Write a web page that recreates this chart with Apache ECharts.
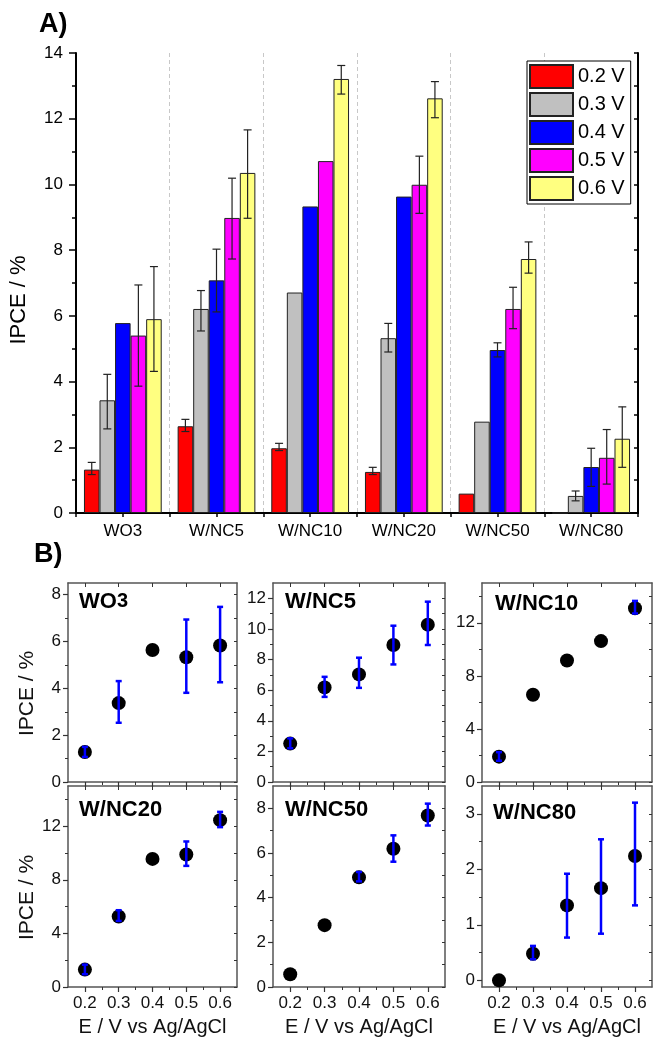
<!DOCTYPE html>
<html><head><meta charset="utf-8">
<script src="https://cdn.jsdelivr.net/npm/echarts@6/dist/echarts.min.js"></script>
<style>html,body{margin:0;padding:0;background:#fff}#c{width:655px;height:1040px}</style>
</head><body><div id="c"></div>
<script>
// ---------------- DATA ----------------
const samples = ['WO3', 'W/NC5', 'W/NC10', 'W/NC20', 'W/NC50', 'W/NC80'];
const voltageNames = ['0.2 V', '0.3 V', '0.4 V', '0.5 V', '0.6 V'];
const voltages = [0.2, 0.3, 0.4, 0.5, 0.6];

// Panel A: IPCE (%) per sample at each potential
const ipce02 = [1.32, 2.64, 1.97, 1.25, 0.59, 0];
const ipce03 = [3.43, 6.21, 6.71, 5.32, 2.78, 0.52];
const ipce04 = [5.78, 7.08, 9.33, 9.63, 4.96, 1.40];
const ipce05 = [5.40, 8.98, 10.71, 9.99, 6.21, 1.68];
const ipce06 = [5.90, 10.35, 13.21, 12.62, 7.73, 2.26];
// Panel A: error bar limits (null = no bar)
const err02Lo = [1.17, 2.48, 1.90, 1.17, null, null];
const err02Hi = [1.54, 2.85, 2.12, 1.39, null, null];
const err03Lo = [2.56, 5.54, null, 4.90, null, 0.37];
const err03Hi = [4.22, 6.77, null, 5.77, null, 0.67];
const err04Lo = [null, 6.12, null, null, 4.75, 0.81];
const err04Hi = [null, 8.03, null, null, 5.18, 1.97];
const err05Lo = [3.86, 7.73, null, 9.12, 5.61, 0.88];
const err05Hi = [6.94, 10.19, null, 10.86, 6.87, 2.54];
const err06Lo = [4.31, 8.97, 12.75, 12.03, 7.30, 1.39];
const err06Hi = [7.50, 11.66, 13.62, 13.13, 8.25, 3.23];

// Panel B: IPCE vs potential per sample
const wo3Ipce = [1.28, 3.37, 5.64, 5.33, 5.83];
const wo3Lo = [1.07, 2.53, null, 3.81, 4.26];
const wo3Hi = [1.50, 4.31, null, 6.94, 7.48];
const nc5Ipce = [2.51, 6.18, 7.03, 8.95, 10.28];
const nc5Lo = [2.20, 5.56, 6.15, 7.68, 8.95];
const nc5Hi = [2.85, 6.87, 8.12, 10.21, 11.78];
const nc10Ipce = [1.91, 6.58, 9.16, 10.62, 13.10];
const nc10Lo = [1.60, null, null, null, 12.70];
const nc10Hi = [2.25, null, null, null, 13.65];
const nc20Ipce = [1.30, 5.26, 9.56, 9.89, 12.45];
const nc20Lo = [0.95, 4.93, null, 9.04, 11.93];
const nc20Hi = [1.67, 5.73, null, 10.86, 13.07];
const nc50Ipce = [0.57, 2.77, 4.91, 6.19, 7.68];
const nc50Lo = [null, null, 4.73, 5.61, 7.23];
const nc50Hi = [null, null, 5.15, 6.79, 8.21];
const nc80Ipce = [0.00, 0.48, 1.35, 1.66, 2.24];
const nc80Lo = [null, 0.38, 0.77, 0.84, 1.35];
const nc80Hi = [null, 0.62, 1.92, 2.54, 3.20];

// Tick labels
const xTickB = [0.2, 0.3, 0.4, 0.5, 0.6];
const xMinorB = [0.25, 0.35, 0.45, 0.55];
const wo3Ticks = [0, 2, 4, 6, 8];
const wo3Minor = [1, 3, 5, 7];
const nc5Ticks = [0, 2, 4, 6, 8, 10, 12];
const nc5Minor = [1, 3, 5, 7, 9, 11];
const nc10Ticks = [0, 4, 8, 12];
const nc10Minor = [2, 6, 10, 14];
const nc20Ticks = [0, 4, 8, 12];
const nc20Minor = [2, 6, 10, 14];
const nc50Ticks = [0, 2, 4, 6, 8];
const nc50Minor = [1, 3, 5, 7];
const nc80Ticks = [0, 1, 2, 3];
const nc80Minor = [0.5, 1.5, 2.5];

// ---------------- STYLE / LAYOUT ----------------
const FONT = '"Liberation Sans", Arial, Helvetica, sans-serif';
const barColors = ['#FF0000', '#C0C0C0', '#0000FF', '#FF00FF', '#FFFF80'];
const CAT_GAP = 0.17;

const seriesA = [ipce02, ipce03, ipce04, ipce05, ipce06];
const errLoA = [err02Lo, err03Lo, err04Lo, err05Lo, err06Lo];
const errHiA = [err02Hi, err03Hi, err04Hi, err05Hi, err06Hi];

const panelsB = [
  {label: '{a|WO}{b|3}', y: wo3Ipce, lo: wo3Lo, hi: wo3Hi, ticks: wo3Ticks, minor: wo3Minor},
  {label: '{a|W/NC5}', y: nc5Ipce, lo: nc5Lo, hi: nc5Hi, ticks: nc5Ticks, minor: nc5Minor},
  {label: '{a|W/NC10}', y: nc10Ipce, lo: nc10Lo, hi: nc10Hi, ticks: nc10Ticks, minor: nc10Minor},
  {label: '{a|W/NC20}', y: nc20Ipce, lo: nc20Lo, hi: nc20Hi, ticks: nc20Ticks, minor: nc20Minor},
  {label: '{a|W/NC50}', y: nc50Ipce, lo: nc50Lo, hi: nc50Hi, ticks: nc50Ticks, minor: nc50Minor},
  {label: '{a|W/NC80}', y: nc80Ipce, lo: nc80Lo, hi: nc80Hi, ticks: nc80Ticks, minor: nc80Minor}
];
const layoutB = [
  {left: 68, top: 583, width: 169, height: 199, ymin: 0, ymax: 8.5, lx: 11, ly: 8, row: 0, col: 0},
  {left: 273, top: 583, width: 172, height: 199, ymin: 0, ymax: 13, lx: 12, ly: 8, row: 0, col: 1},
  {left: 482, top: 583, width: 170, height: 199, ymin: 0, ymax: 15, lx: 13, ly: 10, row: 0, col: 2},
  {left: 68, top: 786, width: 169, height: 201, ymin: 0, ymax: 15, lx: 11, ly: 13, row: 1, col: 0},
  {left: 273, top: 786, width: 172, height: 201, ymin: 0, ymax: 9, lx: 12, ly: 13, row: 1, col: 1},
  {left: 482, top: 786, width: 170, height: 201, ymin: -0.12, ymax: 3.5, lx: 11, ly: 16, row: 1, col: 2}
];

const grids = [], xAxes = [], yAxes = [], series = [], graphics = [];

// ---------------- PANEL A ----------------
grids.push({left: 75, top: 53, width: 563, height: 460});
xAxes.push({
  type: 'category', gridIndex: 0, data: samples, boundaryGap: true,
  axisLine: {lineStyle: {color: '#000', width: 2}},
  axisTick: {show: false},
  axisLabel: {color: '#000', fontSize: 17, fontFamily: FONT, margin: 10, interval: 0},
  splitLine: {show: true, interval: 0, lineStyle: {color: '#c8c8c8', type: [4, 3], width: 1}}
});
xAxes.push({
  type: 'value', gridIndex: 0, position: 'top', min: 0, max: 6, interval: 0.5,
  axisLine: {lineStyle: {color: '#000', width: 2}},
  axisTick: {inside: true, length: 4, lineStyle: {color: '#000', width: 1.5}},
  axisLabel: {show: false}, splitLine: {show: false}
});
yAxes.push({
  type: 'value', gridIndex: 0, min: 0, max: 14, interval: 2,
  name: 'IPCE / %', nameLocation: 'middle', nameGap: 46,
  nameTextStyle: {fontSize: 22, fontFamily: FONT, color: '#000', padding: [0, 34, 0, 0]},
  axisLine: {show: true, lineStyle: {color: '#000', width: 2}},
  axisTick: {show: true, length: 7, lineStyle: {color: '#000', width: 1.5}},
  minorTick: {show: true, splitNumber: 2, length: 4, lineStyle: {color: '#000', width: 1.5}},
  axisLabel: {color: '#000', fontSize: 17, fontFamily: FONT, margin: 13},
  splitLine: {show: false}
});
yAxes.push({
  type: 'value', gridIndex: 0, position: 'right', min: 0, max: 14, interval: 1,
  axisLine: {show: true, lineStyle: {color: '#000', width: 2}},
  axisTick: {show: true, inside: true, length: 4, lineStyle: {color: '#000', width: 1.5}},
  axisLabel: {show: false}, splitLine: {show: false}
});

function barErrRenderer(pos) {
  return function (params, api) {
    const cat = api.value(0);
    const pLo = api.coord([cat, api.value(1)]);
    const pHi = api.coord([cat, api.value(2)]);
    const band = api.size([1, 0])[0];
    const total = band * (1 - CAT_GAP);
    const bw = total / voltageNames.length;
    const x = pLo[0] - total / 2 + bw * (pos + 0.5);
    const cap = 4;
    const st = {stroke: '#222', lineWidth: 1.2};
    return {type: 'group', children: [
      {type: 'line', shape: {x1: x, y1: pLo[1], x2: x, y2: pHi[1]}, style: st},
      {type: 'line', shape: {x1: x - cap, y1: pLo[1], x2: x + cap, y2: pLo[1]}, style: st},
      {type: 'line', shape: {x1: x - cap, y1: pHi[1], x2: x + cap, y2: pHi[1]}, style: st}
    ]};
  };
}

seriesA.forEach(function (vals, i) {
  series.push({
    type: 'bar', name: voltageNames[i], xAxisIndex: 0, yAxisIndex: 0,
    data: vals, barCategoryGap: (CAT_GAP * 100) + '%', barGap: '0%',
    itemStyle: {color: barColors[i], borderColor: '#222', borderWidth: 1},
    emphasis: {disabled: true}, z: 2
  });
});
seriesA.forEach(function (vals, i) {
  const d = [];
  samples.forEach(function (s, k) {
    if (errLoA[i][k] != null) d.push([k, errLoA[i][k], errHiA[i][k]]);
  });
  series.push({
    type: 'custom', xAxisIndex: 0, yAxisIndex: 0, data: d,
    encode: {x: 0, y: [1, 2]}, renderItem: barErrRenderer(i), z: 5, silent: true
  });
});

// ---------------- PANEL B ----------------
function errRendererB(params, api) {
  const pLo = api.coord([api.value(0), api.value(1)]);
  const pHi = api.coord([api.value(0), api.value(2)]);
  const x = pLo[0];
  const cap = 3;
  const st = {stroke: '#0000FF', lineWidth: 2.5};
  return {type: 'group', children: [
    {type: 'line', shape: {x1: x, y1: pLo[1], x2: x, y2: pHi[1]}, style: st},
    {type: 'line', shape: {x1: x - cap, y1: pLo[1], x2: x + cap, y2: pLo[1]}, style: st},
    {type: 'line', shape: {x1: x - cap, y1: pHi[1], x2: x + cap, y2: pHi[1]}, style: st}
  ]};
}

const axColB = '#555';
panelsB.forEach(function (P, p) {
  const L = layoutB[p];
  const g = p + 1;
  grids.push({left: L.left, top: L.top, width: L.width, height: L.height});
  const bottomRow = L.row === 1;
  const xi = xAxes.length, yi = yAxes.length;
  xAxes.push({
    type: 'value', gridIndex: g, position: 'bottom', min: 0.15, max: 0.65,
    name: bottomRow ? 'E / V vs Ag/AgCl' : '', nameLocation: 'middle', nameGap: 30,
    nameTextStyle: {fontSize: 20, fontFamily: FONT, color: '#111'},
    axisLine: {show: true, onZero: false, lineStyle: {color: axColB, width: 1.5}},
    axisTick: {show: true, length: 5, customValues: xTickB, lineStyle: {color: '#333', width: 1.2}},
    axisLabel: {show: bottomRow, customValues: xTickB, fontSize: 17, fontFamily: FONT, color: '#111', margin: 8,
      formatter: function (v) { return v.toFixed(1); }},
    splitLine: {show: false}
  });
  xAxes.push({
    type: 'value', gridIndex: g, position: 'bottom', min: 0.15, max: 0.65,
    axisLine: {show: false, onZero: false},
    axisTick: {show: true, length: 3, customValues: xMinorB, lineStyle: {color: '#333', width: 1}},
    axisLabel: {show: false}, splitLine: {show: false}
  });
  xAxes.push({
    type: 'value', gridIndex: g, position: 'top', min: 0.15, max: 0.65,
    axisLine: {show: true, onZero: false, lineStyle: {color: axColB, width: 1.5}},
    axisTick: {show: true, inside: true, length: 4, customValues: xTickB, lineStyle: {color: '#333', width: 1}},
    axisLabel: {show: false}, splitLine: {show: false}
  });
  yAxes.push({
    type: 'value', gridIndex: g, position: 'left', min: L.ymin, max: L.ymax,
    name: L.col === 0 ? 'IPCE / %' : '', nameLocation: 'middle', nameGap: 30,
    nameTextStyle: {fontSize: 21, fontFamily: FONT, color: '#111', padding: [0, 22, 0, 0]},
    axisLine: {show: true, onZero: false, lineStyle: {color: axColB, width: 1.5}},
    axisTick: {show: true, length: 5, customValues: P.ticks, lineStyle: {color: '#333', width: 1.2}},
    axisLabel: {show: true, customValues: P.ticks, fontSize: 17, fontFamily: FONT, color: '#111', margin: 7},
    splitLine: {show: false}
  });
  yAxes.push({
    type: 'value', gridIndex: g, position: 'left', min: L.ymin, max: L.ymax,
    axisLine: {show: false, onZero: false},
    axisTick: {show: true, length: 3, customValues: P.minor, lineStyle: {color: '#333', width: 1}},
    axisLabel: {show: false}, splitLine: {show: false}
  });
  yAxes.push({
    type: 'value', gridIndex: g, position: 'right', min: L.ymin, max: L.ymax,
    axisLine: {show: true, onZero: false, lineStyle: {color: axColB, width: 1.5}},
    axisTick: {show: true, inside: true, length: 3, customValues: P.ticks.concat(P.minor), lineStyle: {color: '#333', width: 1}},
    axisLabel: {show: false}, splitLine: {show: false}
  });

  series.push({
    type: 'scatter', xAxisIndex: xi, yAxisIndex: yi, symbol: 'circle', symbolSize: 14,
    itemStyle: {color: '#000', opacity: 1}, data: voltages.map(function (v, k) { return [v, P.y[k]]; }),
    z: 3, silent: true
  });
  const ed = [];
  voltages.forEach(function (v, k) { if (P.lo[k] != null) ed.push([v, P.lo[k], P.hi[k]]); });
  series.push({
    type: 'custom', xAxisIndex: xi, yAxisIndex: yi, data: ed,
    encode: {x: 0, y: [1, 2]}, renderItem: errRendererB, z: 4, silent: true
  });

  graphics.push({
    type: 'text', left: L.left + L.lx, top: L.top + L.ly, z: 10,
    style: {
      text: P.label, fill: '#000',
      rich: {
        a: {fontSize: 22, fontWeight: 'bold', fontFamily: FONT, lineHeight: 24, verticalAlign: 'top', fill: '#000'},
        b: {fontSize: 20, fontWeight: 'bold', fontFamily: FONT, lineHeight: 34, verticalAlign: 'top', fill: '#000'}
      }
    }
  });
});

graphics.push({type: 'text', left: 39, top: 11, style: {text: 'A)', font: 'bold 27px ' + FONT, fill: '#000'}});
graphics.push({type: 'text', left: 34, top: 541, style: {text: 'B)', font: 'bold 27px ' + FONT, fill: '#000'}});

const chart = echarts.init(document.getElementById('c'), null, {renderer: 'canvas', width: 655, height: 1040});
chart.setOption({
  animation: false,
  backgroundColor: '#fff',
  textStyle: {fontFamily: FONT},
  grid: grids, xAxis: xAxes, yAxis: yAxes, series: series, graphic: graphics,
  legend: {
    data: voltageNames, orient: 'vertical', left: 527, top: 61,
    itemWidth: 43, itemHeight: 23, itemGap: 3, padding: [3, 6, 3, 2],
    borderColor: '#000', borderWidth: 1, backgroundColor: '#fff', selectedMode: false,
    textStyle: {fontSize: 20, fontFamily: FONT, color: '#000', padding: [0, 0, 0, 0]},
    icon: 'rect'
  }
});
</script></body></html>
